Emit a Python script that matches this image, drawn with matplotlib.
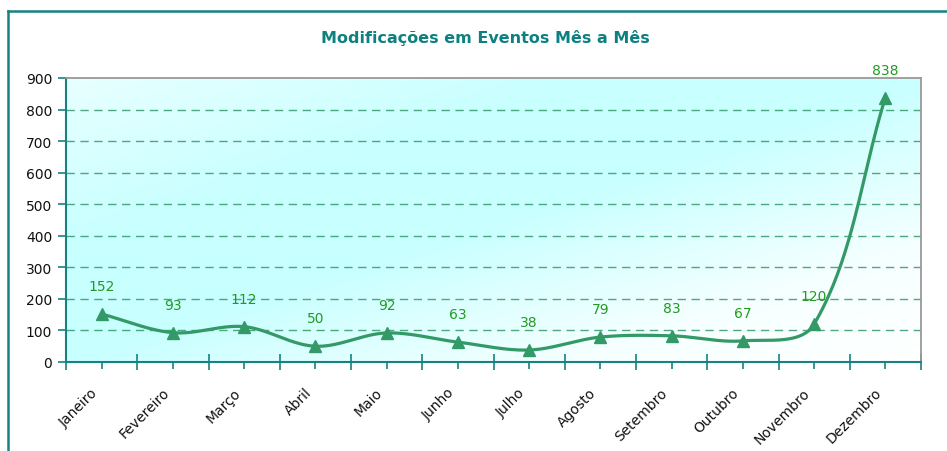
import numpy as np
import matplotlib
matplotlib.use("Agg")
import matplotlib.pyplot as plt
from matplotlib.colors import LinearSegmentedColormap
from matplotlib.lines import Line2D
from matplotlib.transforms import ScaledTranslation

# monthly values
months = ['Janeiro', 'Fevereiro', 'Março', 'Abril', 'Maio', 'Junho',
          'Julho', 'Agosto', 'Setembro', 'Outubro', 'Novembro', 'Dezembro']
values = [152, 93, 112, 50, 92, 63, 38, 79, 83, 67, 120, 838]
title = 'Modificações em Eventos Mês a Mês'

teal = '#168282'
line_col = '#339966'
label_col = '#229a22'

W, H = 947, 452
fig = plt.figure(figsize=(W / 100, H / 100), dpi=100)
ax = fig.add_axes([66 / W, (H - 363) / H, 855 / W, 284 / H])

x = np.arange(1, len(values) + 1)
ax.set_xlim(0.5, len(values) + 0.5)
ax.set_ylim(0, 900)

# gradient background of the plot area
gx, gy = np.meshgrid(np.linspace(0, 1, 300), np.linspace(1, 0, 150))
s = gx - gy
cmap = LinearSegmentedColormap.from_list(
    'bg', [(0.0, '#e8ffff'), (0.3, '#c8ffff'), (0.5, '#c8ffff'), (0.8, '#f6ffff'), (1.0, '#ffffff')])
ax.imshow((s + 1) / 2, cmap=cmap, vmin=0, vmax=1, extent=[0, 1, 0, 1],
          transform=ax.transAxes, aspect='auto', zorder=0, interpolation='bilinear')

# grid
for yv in range(100, 900, 100):
    ax.axhline(yv, color=line_col, lw=1, ls=(0, (6, 4)), alpha=0.85, zorder=1)


def smooth(xs, ys, k=1/3., n=40):
    # bezier smoothing in screen space, like the spreadsheet "smoothed line"
    pts = ax.transData.transform(np.column_stack([xs, ys]))
    out = [pts[0]]
    m = len(pts)
    for i in range(m - 1):
        p0, p1 = pts[i], pts[i + 1]
        seg = np.hypot(*(p1 - p0))
        a = pts[i + 1] - pts[i - 1] if i > 0 else p1 - p0
        b = pts[i + 2] - pts[i] if i + 2 < m else p1 - p0
        a = a / np.hypot(*a)
        b = b / np.hypot(*b)
        c1 = p0 + a * seg * k
        c2 = p1 - b * seg * k
        t = np.linspace(0, 1, n)[1:, None]
        curve = ((1 - t) ** 3) * p0 + 3 * ((1 - t) ** 2) * t * c1 + 3 * (1 - t) * t ** 2 * c2 + t ** 3 * p1
        out.extend(curve)
    return ax.transData.inverted().transform(np.array(out))


sm = smooth(x, values)
ax.plot(sm[:, 0], sm[:, 1], color=line_col, lw=2.3, zorder=3, solid_capstyle='round')
ax.plot(x, values, ls='none', marker='^', ms=9, color=line_col, zorder=4)

for xi, v in zip(x, values):
    ax.annotate(str(v), (xi, v), xytext=(0, 20), textcoords='offset points',
                ha='center', va='center', color=label_col, fontsize=10, zorder=5)

# spines
for side in ['top', 'right']:
    ax.spines[side].set_color('#999999')
    ax.spines[side].set_linewidth(1.3)
for side in ['left', 'bottom']:
    ax.spines[side].set_color(teal)
    ax.spines[side].set_linewidth(1.5)

ax.set_yticks(range(0, 1000, 100))
ax.tick_params(axis='y', colors=teal, labelcolor='#111111', labelsize=10, length=6, width=1.2, pad=4)
ax.set_xticks(x)
ax.set_xticklabels(months, rotation=45, ha='right', va='top', rotation_mode='anchor')
ax.set_xticks(np.arange(0.5, len(values) + 1, 1), minor=True)
ax.tick_params(axis='x', which='major', colors=teal, labelcolor='#111111', labelsize=10,
               length=5, width=1.2, direction='out', pad=8)
ax.tick_params(axis='x', which='minor', colors=teal, length=11, width=1.2, direction='inout')
shift = ScaledTranslation(-0.11, -0.05, fig.dpi_scale_trans)
for lab in ax.get_xticklabels():
    lab.set_transform(lab.get_transform() + shift)

fig.text(485 / W, 1 - 38 / H, title, ha='center', va='center', color='#0e8080',
         fontsize=11.5, fontweight='bold')

# outer chart border (left and top edges visible)
fig.add_artist(Line2D([8 / W, 8 / W], [0, 1 - 12 / H], color=teal, lw=1.8, transform=fig.transFigure))
fig.add_artist(Line2D([8 / W, 1], [1 - 12 / H, 1 - 12 / H], color=teal, lw=1.8, transform=fig.transFigure))

fig.savefig('out.png', dpi=100)
